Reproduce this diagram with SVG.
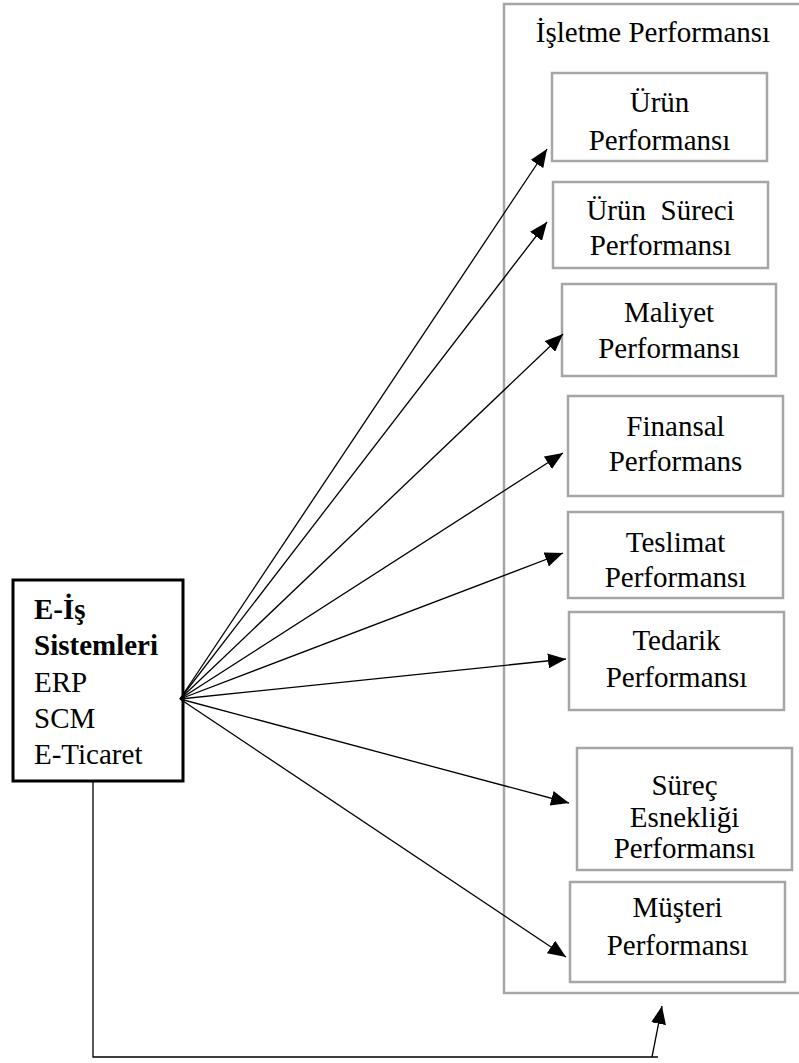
<svg xmlns="http://www.w3.org/2000/svg" width="799" height="1063" viewBox="0 0 799 1063">
<style>
  .t { font-family: "Liberation Serif", "Times New Roman", serif; font-size: 29px; fill: #000; text-anchor: middle; }
  .lt { font-family: "Liberation Serif", "Times New Roman", serif; font-size: 29px; fill: #000; }
  .b { font-weight: bold; }
  .gbox { fill: #fff; stroke: #a6a6a6; stroke-width: 2.5; }
  .conn { stroke: #000; stroke-width: 1.3; fill: none; }
</style>
<defs>
  <marker id="ah" markerUnits="userSpaceOnUse" markerWidth="18" markerHeight="15" refX="18" refY="7.5" orient="auto">
    <path d="M0,0 L18,7.5 L0,15 Z" fill="#000"/>
  </marker>
</defs>
<rect width="799" height="1063" fill="#fff"/>

<g id="isletme-performansi">
  <rect x="504" y="4" width="300" height="989" fill="none" stroke="#a6a6a6" stroke-width="2.5"/>
  <text class="t" x="653" y="42">İşletme Performansı</text>
</g>

<g id="urun-performansi">
  <rect class="gbox" x="552" y="73" width="215" height="88"/>
  <text class="t" x="659.5" y="112">Ürün</text>
  <text class="t" x="659.5" y="150">Performansı</text>
</g>

<g id="urun-sureci-performansi">
  <rect class="gbox" x="553" y="182" width="215" height="86"/>
  <text class="t" x="660.5" y="220" xml:space="preserve">Ürün  Süreci</text>
  <text class="t" x="660.5" y="255">Performansı</text>
</g>

<g id="maliyet-performansi">
  <rect class="gbox" x="562" y="284" width="214" height="92"/>
  <text class="t" x="669" y="322">Maliyet</text>
  <text class="t" x="669" y="358">Performansı</text>
</g>

<g id="finansal-performans">
  <rect class="gbox" x="568" y="396" width="215" height="100"/>
  <text class="t" x="675.5" y="436">Finansal</text>
  <text class="t" x="675.5" y="471">Performans</text>
</g>

<g id="teslimat-performansi">
  <rect class="gbox" x="568" y="512" width="215" height="86"/>
  <text class="t" x="675.5" y="552">Teslimat</text>
  <text class="t" x="675.5" y="587">Performansı</text>
</g>

<g id="tedarik-performansi">
  <rect class="gbox" x="569" y="612" width="215" height="98"/>
  <text class="t" x="676.5" y="650">Tedarik</text>
  <text class="t" x="676.5" y="687">Performansı</text>
</g>

<g id="surec-esnekligi-performansi">
  <rect class="gbox" x="577" y="748" width="215" height="122"/>
  <text class="t" x="684.5" y="795">Süreç</text>
  <text class="t" x="684.5" y="827">Esnekliği</text>
  <text class="t" x="684.5" y="858">Performansı</text>
</g>

<g id="musteri-performansi">
  <rect class="gbox" x="570" y="882" width="215" height="100"/>
  <text class="t" x="677.5" y="917">Müşteri</text>
  <text class="t" x="677.5" y="955">Performansı</text>
</g>

<g id="e-is-sistemleri">
  <rect x="13" y="580" width="170" height="201" fill="#fff" stroke="#000" stroke-width="3"/>
  <text class="lt b" x="34" y="619">E-İş</text>
  <text class="lt b" x="34" y="655">Sistemleri</text>
  <text class="lt" x="34" y="692">ERP</text>
  <text class="lt" x="34" y="728">SCM</text>
  <text class="lt" x="34" y="764">E-Ticaret</text>
</g>

<g id="connectors">
  <line class="conn" x1="180" y1="699" x2="547" y2="149" marker-end="url(#ah)"/>
  <line class="conn" x1="180" y1="699" x2="547" y2="222" marker-end="url(#ah)"/>
  <line class="conn" x1="180" y1="699" x2="563" y2="334" marker-end="url(#ah)"/>
  <line class="conn" x1="180" y1="699" x2="563" y2="453" marker-end="url(#ah)"/>
  <line class="conn" x1="180" y1="699" x2="563" y2="553" marker-end="url(#ah)"/>
  <line class="conn" x1="180" y1="699" x2="566" y2="659" marker-end="url(#ah)"/>
  <line class="conn" x1="180" y1="699" x2="569" y2="803" marker-end="url(#ah)"/>
  <line class="conn" x1="180" y1="699" x2="566" y2="957" marker-end="url(#ah)"/>
  <polyline class="conn" points="93,781 93,1057 658,1057"/>
  <line class="conn" x1="652" y1="1057" x2="662" y2="1006" marker-end="url(#ah)"/>
</g>
</svg>
